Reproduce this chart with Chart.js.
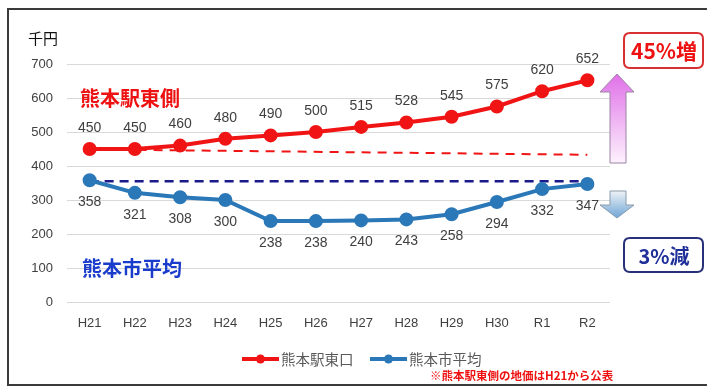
<!DOCTYPE html>
<html><head><meta charset="utf-8">
<script src="https://cdn.jsdelivr.net/npm/chart.js@4/dist/chart.umd.min.js"></script>
<style>html,body{margin:0;padding:0;background:#fff;}#wrap{width:707px;height:387px;position:relative;}</style>
</head><body><div id="wrap"><canvas id="c" width="707" height="387"></canvas></div>
<script>
const categories = ['H21','H22','H23','H24','H25','H26','H27','H28','H29','H30','R1','R2'];
const eastValues = [450,450,460,480,490,500,515,528,545,575,620,652];
const cityValues = [358,321,308,300,238,238,240,243,258,294,332,347];
const eastTrend = [449,null,null,null,null,null,null,null,null,null,null,433];
const cityTrend = [355,null,null,null,null,null,null,null,null,null,null,355];
const yTickValues = [0,100,200,300,400,500,600,700];
const seriesNames = ['熊本駅東口','熊本市平均'];

const JP = '"Noto Sans CJK JP", sans-serif';
const NUM = '"Liberation Sans", "Noto Sans", sans-serif';
const RED = '#f01414';
const BLUE = '#2a78b8';

function roundRect(ctx, x, y, w, h, r) {
  ctx.beginPath();
  ctx.moveTo(x + r, y);
  ctx.lineTo(x + w - r, y); ctx.quadraticCurveTo(x + w, y, x + w, y + r);
  ctx.lineTo(x + w, y + h - r); ctx.quadraticCurveTo(x + w, y + h, x + w - r, y + h);
  ctx.lineTo(x + r, y + h); ctx.quadraticCurveTo(x, y + h, x, y + h - r);
  ctx.lineTo(x, y + r); ctx.quadraticCurveTo(x, y, x + r, y);
  ctx.closePath();
}

const decor = {
  id: 'decor',
  beforeDraw(chart) {
    const ctx = chart.ctx;
    ctx.save();
    ctx.fillStyle = '#fff';
    ctx.fillRect(0, 0, chart.width, chart.height);
    ctx.strokeStyle = '#3a3a3a';
    ctx.lineWidth = 2;
    ctx.beginPath();
    ctx.moveTo(8, 386); ctx.lineTo(8, 9); ctx.lineTo(707, 9);
    ctx.moveTo(8, 385); ctx.lineTo(707, 385);
    ctx.stroke();
    ctx.restore();
  },
  afterDatasetsDraw(chart) {
    const ctx = chart.ctx;
    ctx.save();
    // data labels
    ctx.font = '14px ' + NUM;
    ctx.fillStyle = '#404040';
    ctx.textAlign = 'center';
    ctx.textBaseline = 'middle';
    const m0 = chart.getDatasetMeta(0), m1 = chart.getDatasetMeta(1);
    m0.data.forEach((p, i) => ctx.fillText(String(eastValues[i]), p.x, p.y - 21));
    m1.data.forEach((p, i) => ctx.fillText(String(cityValues[i]), p.x, p.y + 22));

    // y unit
    ctx.textAlign = 'left';
    ctx.fillStyle = '#111';
    ctx.font = '15px ' + JP;
    ctx.fillText('千円', 28, 38);

    // series annotations
    ctx.font = 'bold 20px ' + JP;
    ctx.fillStyle = '#ee1111';
    ctx.fillText('熊本駅東側', 80, 98);
    ctx.fillStyle = '#1a3ccc';
    ctx.fillText('熊本市平均', 82, 268);

    // legend
    const legendY = 359;
    const items = [
      {x: 242, color: RED, name: seriesNames[0]},
      {x: 370, color: BLUE, name: seriesNames[1]}
    ];
    items.forEach(it => {
      ctx.strokeStyle = it.color; ctx.lineWidth = 4;
      ctx.beginPath(); ctx.moveTo(it.x, legendY); ctx.lineTo(it.x + 37, legendY); ctx.stroke();
      ctx.fillStyle = it.color;
      ctx.beginPath(); ctx.arc(it.x + 18.5, legendY, 4.5, 0, Math.PI * 2); ctx.fill();
      ctx.fillStyle = '#595959';
      ctx.font = '14.5px ' + JP;
      ctx.textAlign = 'left';
      ctx.fillText(it.name, it.x + 39, legendY);
    });

    // footnote
    ctx.font = 'bold 11.5px ' + JP;
    ctx.fillStyle = '#ee1111';
    ctx.fillText('※熊本駅東側の地価はH21から公表', 430, 376);

    // up arrow
    let g = ctx.createLinearGradient(0, 74, 0, 163);
    g.addColorStop(0, '#e070e8'); g.addColorStop(1, '#fdf2fd');
    ctx.fillStyle = g; ctx.strokeStyle = '#9b84a4'; ctx.lineWidth = 1;
    ctx.beginPath();
    ctx.moveTo(617, 74); ctx.lineTo(634, 92); ctx.lineTo(626, 92); ctx.lineTo(626, 163);
    ctx.lineTo(610, 163); ctx.lineTo(610, 92); ctx.lineTo(600, 92); ctx.closePath();
    ctx.fill(); ctx.stroke();

    // down arrow
    g = ctx.createLinearGradient(0, 191, 0, 218);
    g.addColorStop(0, '#eef2f6'); g.addColorStop(1, '#6fa6d6');
    ctx.fillStyle = g; ctx.strokeStyle = '#8a9aac';
    ctx.beginPath();
    ctx.moveTo(610, 191); ctx.lineTo(626, 191); ctx.lineTo(626, 205); ctx.lineTo(634, 205);
    ctx.lineTo(617, 218); ctx.lineTo(600, 205); ctx.lineTo(610, 205); ctx.closePath();
    ctx.fill(); ctx.stroke();

    // boxes
    ctx.lineWidth = 2;
    ctx.strokeStyle = '#d83030';
    roundRect(ctx, 624, 33, 79, 35, 6); ctx.fillStyle = '#fff'; ctx.fill(); ctx.stroke();
    ctx.fillStyle = '#ee1111'; ctx.font = 'bold 21px ' + JP; ctx.textAlign = 'center';
    ctx.fillText('45%増', 664, 51);

    ctx.strokeStyle = '#28307a';
    roundRect(ctx, 624, 238, 79, 34, 6); ctx.fillStyle = '#fff'; ctx.fill(); ctx.stroke();
    ctx.fillStyle = '#1f2f9a'; ctx.font = 'bold 20px ' + JP;
    ctx.fillText('3%減', 664, 256);
    ctx.restore();
  }
};

new Chart(document.getElementById('c'), {
  type: 'line',
  data: {
    labels: categories,
    datasets: [
      {label: seriesNames[0], data: eastValues, borderColor: RED, backgroundColor: RED,
       borderWidth: 4, pointRadius: 5, pointHoverRadius: 5, order: 0, tension: 0},
      {label: seriesNames[1], data: cityValues, borderColor: BLUE, backgroundColor: BLUE,
       borderWidth: 4, pointRadius: 5, pointHoverRadius: 5, order: 0, tension: 0},
      {label: 'east trend', data: eastTrend, borderColor: RED, borderWidth: 2, borderDash: [9, 7],
       pointRadius: 0, spanGaps: true, order: 2},
      {label: 'city trend', data: cityTrend, borderColor: '#1a1a8a', borderWidth: 2.5, borderDash: [9, 6],
       pointRadius: 0, spanGaps: true, order: 2}
    ]
  },
  options: {
    responsive: false,
    animation: false,
    devicePixelRatio: 1,
    layout: {padding: {left: 0, right: 97, top: 64, bottom: 55}},
    plugins: {legend: {display: false}, tooltip: {enabled: false}},
    scales: {
      x: {
        offset: true,
        grid: {display: false, drawTicks: false},
        border: {display: false},
        ticks: {padding: 14, color: '#404040', font: {family: NUM, size: 13}},
        afterFit(s) { s.height = 30; }
      },
      y: {
        min: 0, max: 700,
        afterBuildTicks(s) { s.ticks = yTickValues.map(v => ({value: v})); },
        grid: {color: '#d9d9d9', drawTicks: false, lineWidth: 1},
        border: {display: false},
        ticks: {padding: 14, color: '#404040', font: {family: NUM, size: 13}},
        afterFit(s) { s.width = 67; }
      }
    }
  },
  plugins: [decor]
});
</script>
</body></html>
